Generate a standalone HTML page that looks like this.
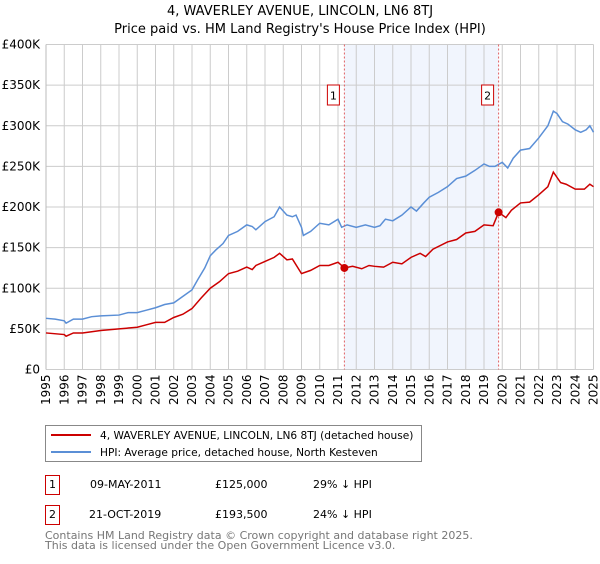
<!DOCTYPE html>
<html><head><meta charset="utf-8"><style>
body{margin:0;background:#fff;font-family:"DejaVu Sans","Liberation Sans",sans-serif;}
svg text{font-family:"DejaVu Sans","Liberation Sans",sans-serif;}
</style></head><body>
<svg id="c" width="600" height="560">
<text x="300" y="15" text-anchor="middle" font-size="13">4, WAVERLEY AVENUE, LINCOLN, LN6 8TJ</text>
<text x="300" y="33" text-anchor="middle" font-size="13">Price paid vs. HM Land Registry's House Price Index (HPI)</text>
<g id="plot"></g>
<g>
<rect x="45.5" y="425.5" width="376" height="36" fill="#fff" stroke="#888"/>
<line x1="51" y1="435" x2="91" y2="435" stroke="#cc0000" stroke-width="2"/>
<text x="100" y="439" font-size="10.6">4, WAVERLEY AVENUE, LINCOLN, LN6 8TJ (detached house)</text>
<line x1="51" y1="452" x2="91" y2="452" stroke="#5b8fd6" stroke-width="2"/>
<text x="100" y="456" font-size="10.6">HPI: Average price, detached house, North Kesteven</text>
</g>
<g font-size="11">
<rect x="45.5" y="475.5" width="14" height="19" fill="#fff" stroke="#cc0000"/>
<text x="52.5" y="488" text-anchor="middle">1</text>
<text x="90" y="488">09-MAY-2011</text><text x="215" y="488">£125,000</text><text x="313" y="488">29% ↓ HPI</text>
<rect x="45.5" y="505.5" width="14" height="19" fill="#fff" stroke="#cc0000"/>
<text x="52.5" y="518" text-anchor="middle">2</text>
<text x="89" y="518">21-OCT-2019</text><text x="215" y="518">£193,500</text><text x="313" y="518">24% ↓ HPI</text>
</g>
<text x="45" y="539" font-size="11" fill="#777">Contains HM Land Registry data © Crown copyright and database right 2025.</text>
<text x="45" y="549" font-size="11" fill="#777">This data is licensed under the Open Government Licence v3.0.</text>
</svg>
<script>
const hpiYears=[1995,1995.5,1996,1996.1,1996.5,1997,1997.5,1998,1999,1999.5,2000,2000.5,2001,2001.5,2002,2002.5,2003,2003.3,2003.7,2004,2004.3,2004.7,2005,2005.5,2006,2006.3,2006.5,2007,2007.5,2007.8,2008.2,2008.5,2008.7,2009,2009.1,2009.5,2010,2010.5,2011,2011.2,2011.5,2012,2012.5,2013,2013.3,2013.6,2014,2014.5,2015,2015.3,2015.7,2016,2016.5,2017,2017.5,2018,2018.5,2019,2019.3,2019.6,2020,2020.3,2020.6,2021,2021.5,2022,2022.5,2022.8,2023,2023.3,2023.6,2024,2024.3,2024.6,2024.8,2025];
const hpiValues=[63,62,60,57,62,62,65,66,67,70,70,73,76,80,82,90,98,110,125,140,147,155,165,170,178,176,172,182,188,200,190,188,190,175,165,170,180,178,185,175,178,175,178,175,177,185,183,190,200,195,205,212,218,225,235,238,245,253,250,250,255,248,260,270,272,285,300,318,315,305,302,295,292,295,300,292];
const ppYears=[1995,1996,1996.1,1996.5,1997,1998,1999,2000,2000.5,2001,2001.5,2002,2002.5,2003,2003.5,2004,2004.5,2005,2005.5,2006,2006.3,2006.5,2007,2007.5,2007.8,2008.2,2008.5,2009,2009.5,2010,2010.5,2011,2011.35,2011.8,2012.3,2012.7,2013,2013.5,2014,2014.5,2015,2015.5,2015.8,2016.2,2017,2017.5,2018,2018.5,2019,2019.5,2019.8,2020.2,2020.5,2021,2021.5,2022,2022.5,2022.8,2023.2,2023.5,2024,2024.5,2024.8,2025];
const ppValues=[45,43,41,45,45,48,50,52,55,58,58,64,68,75,88,100,108,118,121,126,123,128,133,138,143,135,136,118,122,128,128,132,125,127,124,128,127,126,132,130,138,143,139,148,157,160,168,170,178,177,193.5,187,196,205,206,215,225,243,230,228,222,222,228,225];
const saleYears=[2011.35,2019.8];
const saleValues=[125,193.5];
const saleLabels=["1","2"];
const yTicks=[0,50,100,150,200,250,300,350,400];
const yTickLabels=["£0","£50K","£100K","£150K","£200K","£250K","£300K","£350K","£400K"];
const xTicks=[1995,1996,1997,1998,1999,2000,2001,2002,2003,2004,2005,2006,2007,2008,2009,2010,2011,2012,2013,2014,2015,2016,2017,2018,2019,2020,2021,2022,2023,2024,2025];

const X0=46,X1=593.5,Y0=369.5,Y1=44.5;
const xs=y=>X0+(y-1995)/30*(X1-X0);
const ys=v=>Y0-v/400*(Y0-Y1);
const NS="http://www.w3.org/2000/svg";
const g=document.getElementById('plot');
function mk(t,a,p){const e=document.createElementNS(NS,t);for(const k in a)e.setAttribute(k,a[k]);(p||g).appendChild(e);return e;}
const shade=mk('rect',{x:xs(saleYears[0]),y:Y1,width:xs(saleYears[1])-xs(saleYears[0]),height:Y0-Y1,fill:'#eef3fc',opacity:0.8});


xTicks.forEach(t=>{const l=mk('line',{x1:xs(t),x2:xs(t),y1:Y1,y2:Y0,stroke:'#ccc'});


const tx=mk('text',{x:0,y:0,'font-size':12,'text-anchor':'end',transform:`translate(${xs(t)+4},${Y0+5}) rotate(-90)`});tx.textContent=t;

});
yTicks.forEach((t,i)=>{const l=mk('line',{x1:X0,x2:X1,y1:ys(t),y2:ys(t),stroke:'#ccc'});


const tx=mk('text',{x:X0-6,y:ys(t)+4,'font-size':12,'text-anchor':'end'});tx.textContent=yTickLabels[i];

});
mk('line',{x1:X0,x2:X0,y1:Y1,y2:Y0,stroke:'#bbb'});
const hp=mk('polyline',{points:hpiYears.map((y,i)=>xs(y)+','+ys(hpiValues[i])).join(' '),fill:'none',stroke:'#5b8fd6','stroke-width':1.5});


const pp=mk('polyline',{points:ppYears.map((y,i)=>xs(y)+','+ys(ppValues[i])).join(' '),fill:'none',stroke:'#cc0000','stroke-width':1.5});


saleYears.forEach((y,i)=>{const x=xs(y);
const l=mk('line',{x1:x,x2:x,y1:Y1,y2:Y0,stroke:'#e06060','stroke-dasharray':'2,2'});


const r=mk('rect',{x:x-17,y:85,width:12,height:20,fill:'#fff',stroke:'#cc0000'});


const t=mk('text',{x:x-11,y:99.5,'font-size':11,'text-anchor':'middle'});t.textContent=saleLabels[i];


const c=mk('circle',{cx:x,cy:ys(saleValues[i]),r:4,fill:'#cc0000'});

});
</script>
</body></html>
